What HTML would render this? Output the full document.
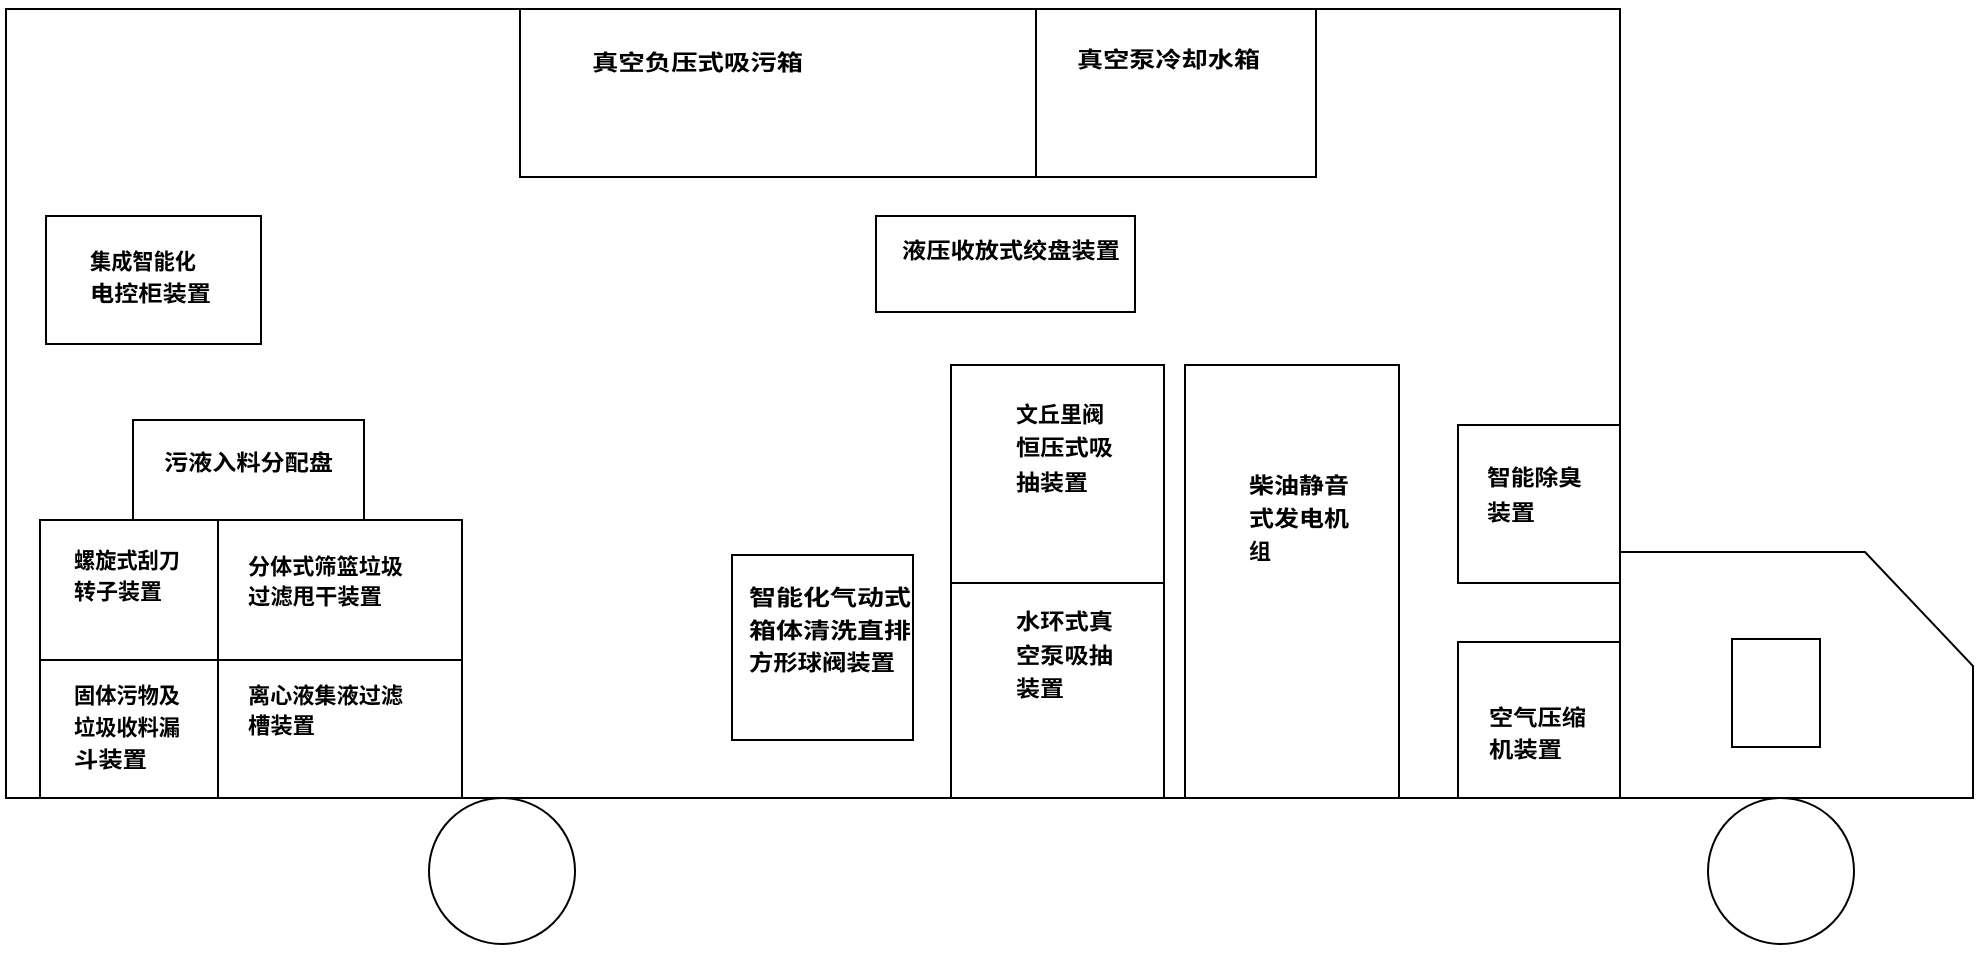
<!DOCTYPE html>
<html><head><meta charset="utf-8"><style>
html,body{margin:0;padding:0;background:#fff;}
svg{display:block;}
text{font-family:"Liberation Sans","Noto Sans CJK SC",sans-serif;font-size:22px;font-weight:bold;fill:#000;dominant-baseline:central;}
</style></head><body>
<svg width="1979" height="954" viewBox="0 0 1979 954" xmlns="http://www.w3.org/2000/svg">
<g fill="none" stroke="#000" stroke-width="2">
<rect x="6" y="9" width="1614" height="789"/>
<rect x="520" y="9" width="516" height="168"/>
<rect x="1036" y="9" width="280" height="168"/>
<rect x="46" y="216" width="215" height="128"/>
<rect x="876" y="216" width="259" height="96"/>
<rect x="133" y="420" width="231" height="100"/>
<rect x="40" y="520" width="422" height="278"/>
<line x1="218" y1="520" x2="218" y2="798"/>
<line x1="40" y1="660" x2="462" y2="660"/>
<rect x="732" y="555" width="181" height="185"/>
<rect x="951" y="365" width="213" height="433"/>
<line x1="951" y1="583" x2="1164" y2="583"/>
<rect x="1185" y="365" width="214" height="433"/>
<rect x="1458" y="425" width="162" height="158"/>
<rect x="1458" y="642" width="162" height="156"/>
<path d="M1620 552 L1865 552 L1973 666 L1973 798 L1620 798"/>
<rect x="1732" y="639" width="88" height="108"/>
<circle cx="502" cy="871" r="73"/>
<circle cx="1781" cy="871" r="73"/>
</g>
<g lengthAdjust="spacingAndGlyphs">
<text x="592" y="63" textLength="211" lengthAdjust="spacingAndGlyphs">真空负压式吸污箱</text>
<text x="1077" y="60" textLength="183" lengthAdjust="spacingAndGlyphs">真空泵冷却水箱</text>
<text x="90" y="262" textLength="106" lengthAdjust="spacingAndGlyphs">集成智能化</text>
<text x="90" y="294" textLength="121" lengthAdjust="spacingAndGlyphs">电控柜装置</text>
<text x="902" y="251" textLength="218" lengthAdjust="spacingAndGlyphs">液压收放式绞盘装置</text>
<text x="164" y="463" textLength="169" lengthAdjust="spacingAndGlyphs">污液入料分配盘</text>
<text x="74" y="561" textLength="106" lengthAdjust="spacingAndGlyphs">螺旋式刮刀</text>
<text x="74" y="592" textLength="88" lengthAdjust="spacingAndGlyphs">转子装置</text>
<text x="248" y="567" textLength="155" lengthAdjust="spacingAndGlyphs">分体式筛篮垃圾</text>
<text x="248" y="597" textLength="134" lengthAdjust="spacingAndGlyphs">过滤甩干装置</text>
<text x="74" y="696" textLength="106" lengthAdjust="spacingAndGlyphs">固体污物及</text>
<text x="74" y="728" textLength="106" lengthAdjust="spacingAndGlyphs">垃圾收料漏</text>
<text x="74" y="760" textLength="73" lengthAdjust="spacingAndGlyphs">斗装置</text>
<text x="248" y="696" textLength="155" lengthAdjust="spacingAndGlyphs">离心液集液过滤</text>
<text x="248" y="726" textLength="67" lengthAdjust="spacingAndGlyphs">槽装置</text>
<text x="749" y="598" textLength="162" lengthAdjust="spacingAndGlyphs">智能化气动式</text>
<text x="749" y="631" textLength="162" lengthAdjust="spacingAndGlyphs">箱体清洗直排</text>
<text x="749" y="663" textLength="146" lengthAdjust="spacingAndGlyphs">方形球阀装置</text>
<text x="1016" y="415" textLength="88" lengthAdjust="spacingAndGlyphs">文丘里阀</text>
<text x="1016" y="448" textLength="97" lengthAdjust="spacingAndGlyphs">恒压式吸</text>
<text x="1016" y="483" textLength="72" lengthAdjust="spacingAndGlyphs">抽装置</text>
<text x="1016" y="622" textLength="97" lengthAdjust="spacingAndGlyphs">水环式真</text>
<text x="1016" y="656" textLength="97" lengthAdjust="spacingAndGlyphs">空泵吸抽</text>
<text x="1016" y="689" textLength="48" lengthAdjust="spacingAndGlyphs">装置</text>
<text x="1249" y="486" textLength="100" lengthAdjust="spacingAndGlyphs">柴油静音</text>
<text x="1249" y="519" textLength="100" lengthAdjust="spacingAndGlyphs">式发电机</text>
<text x="1249" y="552">组</text>
<text x="1487" y="478" textLength="95" lengthAdjust="spacingAndGlyphs">智能除臭</text>
<text x="1487" y="513" textLength="48" lengthAdjust="spacingAndGlyphs">装置</text>
<text x="1489" y="718" textLength="97" lengthAdjust="spacingAndGlyphs">空气压缩</text>
<text x="1489" y="750" textLength="73" lengthAdjust="spacingAndGlyphs">机装置</text>
</g>
</svg>
</body></html>
